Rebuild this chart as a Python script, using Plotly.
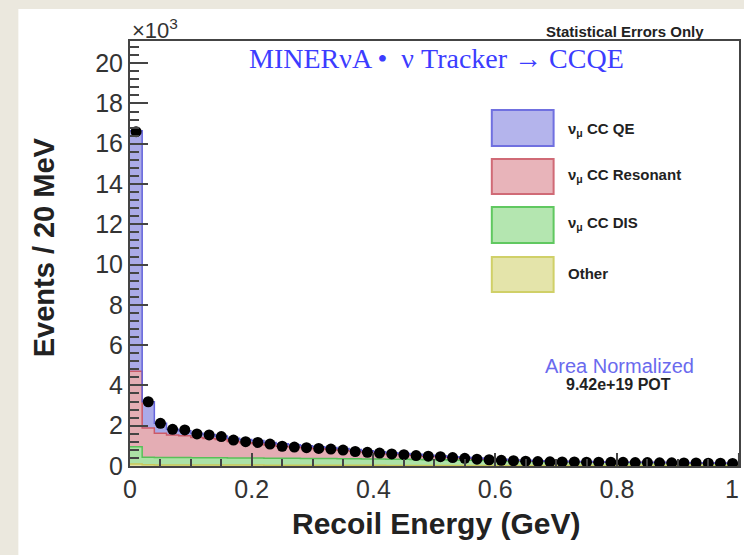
import plotly.graph_objects as go

# ---------------- data (events per 20 MeV, in units of 10^3) ----------------
bin_width = 0.02
n_bins = 50
bin_low = [round(i * bin_width, 2) for i in range(n_bins)]
bin_center = [round(b + bin_width / 2, 2) for b in bin_low]

data_evts = [16.6, 3.19, 2.12, 1.82, 1.79, 1.59, 1.54, 1.46, 1.29, 1.21,
             1.17, 1.09, 0.98, 0.94, 0.91, 0.87, 0.84, 0.79, 0.72, 0.68,
             0.64, 0.60, 0.56, 0.52, 0.49, 0.46, 0.42, 0.38, 0.34, 0.31,
             0.28, 0.26, 0.24, 0.22, 0.21, 0.20, 0.20, 0.19, 0.19, 0.18,
             0.18, 0.17, 0.17, 0.16, 0.16, 0.15, 0.15, 0.14, 0.14, 0.13]

mc_other = [0.10, 0.06, 0.05, 0.05, 0.05, 0.05, 0.05, 0.05, 0.05, 0.05,
            0.05, 0.04, 0.04, 0.04, 0.04, 0.04, 0.04, 0.04, 0.04, 0.04,
            0.04, 0.03, 0.03, 0.03, 0.03, 0.03, 0.03, 0.03, 0.03, 0.03,
            0.03, 0.02, 0.02, 0.02, 0.02, 0.02, 0.02, 0.02, 0.02, 0.02,
            0.02, 0.02, 0.02, 0.02, 0.02, 0.02, 0.02, 0.02, 0.02, 0.02]

mc_dis = [0.85, 0.38, 0.37, 0.37, 0.37, 0.36, 0.36, 0.36, 0.35, 0.35,
          0.35, 0.34, 0.34, 0.34, 0.33, 0.33, 0.33, 0.32, 0.32, 0.31,
          0.31, 0.30, 0.30, 0.29, 0.28, 0.28, 0.27, 0.26, 0.25, 0.24,
          0.23, 0.22, 0.21, 0.20, 0.19, 0.18, 0.17, 0.17, 0.16, 0.16,
          0.15, 0.15, 0.14, 0.14, 0.13, 0.13, 0.12, 0.12, 0.11, 0.11]

mc_res = [3.75, 1.45, 1.20, 1.12, 1.08, 1.00, 0.96, 0.90, 0.82, 0.76,
          0.72, 0.66, 0.60, 0.56, 0.53, 0.49, 0.46, 0.42, 0.38, 0.34,
          0.30, 0.27, 0.24, 0.21, 0.18, 0.16, 0.13, 0.11, 0.09, 0.07,
          0.05, 0.04, 0.03, 0.03, 0.02, 0.02, 0.02, 0.02, 0.02, 0.01,
          0.01, 0.01, 0.01, 0.01, 0.01, 0.01, 0.01, 0.01, 0.01, 0.01]

mc_qe = [11.95, 1.30, 0.50, 0.28, 0.25, 0.22, 0.20, 0.18, 0.16, 0.15,
         0.14, 0.13, 0.12, 0.11, 0.10, 0.10, 0.09, 0.09, 0.08, 0.07,
         0.06, 0.06, 0.05, 0.05, 0.04, 0.04, 0.03, 0.03, 0.03, 0.02,
         0.02, 0.02, 0.02, 0.01, 0.01, 0.01, 0.01, 0.01, 0.01, 0.01,
         0.01, 0.01, 0.01, 0.01, 0.01, 0.01, 0.01, 0.01, 0.01, 0.01]

y_ticks = [0, 2, 4, 6, 8, 10, 12, 14, 16, 18, 20]
x_ticks = [0, 0.2, 0.4, 0.6, 0.8]
x_tick_text = ["0", "0.2", "0.4", "0.6", "0.8"]
x_last_tick = 1
x_last_text = "1"

components = [
    ("Other", mc_other, "#e2e2a6", "#c8c85a"),
    ("ν<sub>μ</sub> CC DIS", mc_dis, "#ace2a6", "#58c058"),
    ("ν<sub>μ</sub> CC Resonant", mc_res, "#e4adb4", "#cc5a68"),
    ("ν<sub>μ</sub> CC QE", mc_qe, "#aaaae8", "#6464dc"),
]

# ---------------- figure ----------------
fig = go.Figure()
step_x = bin_low + [1.0]
for name, vals, fillc, linec in components:
    fig.add_trace(go.Scatter(
        x=step_x, y=vals + [vals[-1]], mode="lines", name=name,
        stackgroup="mc", line=dict(shape="hv", color=linec, width=1.5),
        fillcolor=fillc, showlegend=False, hoverinfo="skip",
    ))

fig.add_trace(go.Scatter(
    x=bin_center, y=data_evts, mode="markers", name="Data",
    marker=dict(color="black", size=11), showlegend=False,
))

L, R, T, B = 130, 3, 41, 89
W, H = 744, 555
pw, ph = W - L - R, H - T - B


def px(xp):
    return (xp - L) / pw


def py(yp):
    return (H - B - yp) / ph


shapes = [
    # white panel on the beige page
    dict(type="rect", xref="paper", yref="paper", x0=px(18), x1=px(750),
         y0=py(9), y1=py(560), fillcolor="white", line=dict(width=0),
         layer="below"),
    # major tick at x = 1 (its label is drawn as an annotation at the page edge)
    dict(type="line", xref="x", yref="paper", x0=x_last_tick, x1=x_last_tick,
         y0=0, y1=13 / ph, line=dict(color="#444", width=1.5)),
]

legend_boxes = [
    (110, 146, "#b4b4ec", "#7070e0", "ν<sub>μ</sub> CC QE", 129),
    (159, 194, "#e8b4ba", "#d06a76", "ν<sub>μ</sub> CC Resonant", 175),
    (207, 243, "#b4e6b0", "#60c860", "ν<sub>μ</sub> CC DIS", 224),
    (257, 292, "#e4e4aa", "#d0d068", "Other", 273),
]
annotations = []
for y0, y1, fc, lc, label, ly in legend_boxes:
    shapes.append(dict(type="rect", xref="paper", yref="paper",
                       x0=px(493), x1=px(555), y0=py(y1), y1=py(y0),
                       fillcolor=fc, line=dict(color=lc, width=2)))
    annotations.append(dict(x=px(567), y=py(ly), xref="paper", yref="paper",
                            text="<b>" + label + "</b>", showarrow=False,
                            xanchor="left", yanchor="middle",
                            font=dict(family="Liberation Sans", size=15, color="#222")))

annotations += [
    dict(x=px(743), y=py(489), xref="paper", yref="paper", text=x_last_text,
         showarrow=False, xanchor="right", yanchor="middle",
         font=dict(family="Liberation Sans", size=25, color="#333")),
    dict(x=px(130), y=py(29), xref="paper", yref="paper", text="×10<sup>3</sup>",
         showarrow=False, xanchor="left", yanchor="middle",
         font=dict(family="Liberation Sans", size=22, color="#333")),
    dict(x=px(438), y=py(58), xref="paper", yref="paper",
         text="MINERνA •  ν Tracker → CCQE", showarrow=False,
         xanchor="center", yanchor="middle",
         font=dict(family="Liberation Serif", size=28, color="#3c3cff")),
    dict(x=px(627), y=py(32), xref="paper", yref="paper",
         text="<b>Statistical Errors Only</b>", showarrow=False,
         xanchor="center", yanchor="middle",
         font=dict(family="Liberation Sans", size=15, color="#222")),
    dict(x=px(621), y=py(366), xref="paper", yref="paper",
         text="Area Normalized", showarrow=False,
         xanchor="center", yanchor="middle",
         font=dict(family="Liberation Sans", size=20, color="#6a6aee")),
    dict(x=px(620), y=py(384), xref="paper", yref="paper",
         text="<b>9.42e+19 POT</b>", showarrow=False,
         xanchor="center", yanchor="middle",
         font=dict(family="Liberation Sans", size=16, color="#222")),
    dict(x=px(437), y=py(523), xref="paper", yref="paper",
         text="<b>Recoil Energy (GeV)</b>", showarrow=False,
         xanchor="center", yanchor="middle",
         font=dict(family="Liberation Sans", size=30, color="#222")),
    dict(x=px(44), y=py(247), xref="paper", yref="paper",
         text="<b>Events / 20 MeV</b>", showarrow=False, textangle=-90,
         xanchor="center", yanchor="middle",
         font=dict(family="Liberation Sans", size=29, color="#222")),
]

fig.update_layout(
    width=W, height=H,
    margin=dict(l=L, r=R, t=T, b=B, pad=0),
    paper_bgcolor="#ebe8de", plot_bgcolor="white",
    shapes=shapes, annotations=annotations,
    showlegend=False,
    font=dict(family="Liberation Sans", color="#333"),
)
fig.update_xaxes(
    range=[0, 1.0005], tickvals=x_ticks, ticktext=x_tick_text,
    ticks="inside", ticklen=13, tickwidth=1.5, tickcolor="#444",
    minor=dict(dtick=0.05, ticks="inside", ticklen=7, tickcolor="#444"),
    showgrid=False, zeroline=False, showline=True, mirror=True,
    linecolor="#444", linewidth=2, tickfont=dict(size=25, color="#333"),
)
fig.update_yaxes(
    range=[0, 21.1], tickvals=y_ticks,
    ticks="inside", ticklen=18, tickwidth=1.5, tickcolor="#444",
    minor=dict(dtick=0.4, ticks="inside", ticklen=9, tickcolor="#444"),
    showgrid=False, zeroline=False, showline=True, mirror=True,
    linecolor="#444", linewidth=2, tickfont=dict(size=25, color="#333"),
)

fig.write_html("out.html")
